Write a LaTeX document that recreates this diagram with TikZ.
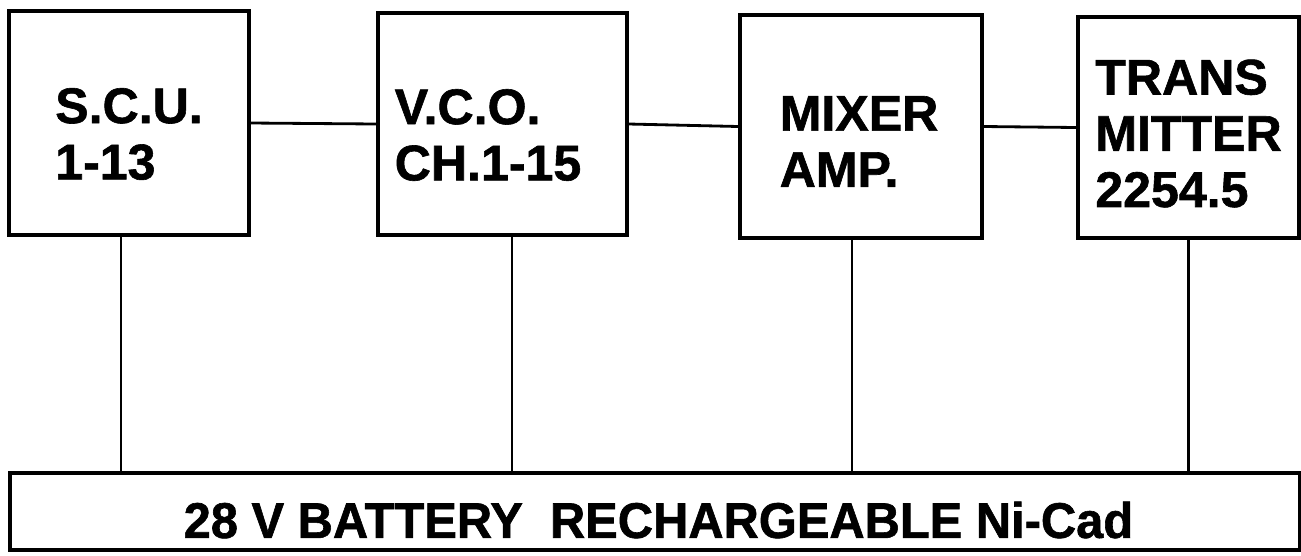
\documentclass[tikz,border=0pt]{standalone}
\usepackage{fontspec}
\setmainfont{Liberation Sans}[BoldFeatures={FakeBold=1.2}]
\usetikzlibrary{positioning}

\begin{document}
\begin{tikzpicture}[
  blk/.style={draw, rectangle, line width=2pt, inner sep=0pt},
  txt/.style={font=\fontsize{28.5}{32}\selectfont\bfseries,
              align=left, inner sep=0pt},
  wire/.style={line width=1.6pt}
]
\useasboundingbox (0,0) rectangle (26.02,-11.1);
\node[blk, minimum width=4.8cm,  minimum height=4.48cm] (scu)   at (2.58,-2.46)  {};
\node[blk, minimum width=4.98cm, minimum height=4.44cm] (vco)   at (10.05,-2.48) {};
\node[blk, minimum width=4.84cm, minimum height=4.46cm] (mix)   at (17.22,-2.53) {};
\node[blk, minimum width=4.42cm, minimum height=4.42cm] (trans) at (23.77,-2.55) {};
\node[blk, minimum width=25.8cm, minimum height=1.54cm] (batt)  at (13.1,-10.23) {};
\node[txt] (scut)   at ([yshift=-0.22cm]scu.center)               {S.C.U.\\1-13};
\node[txt] (vcot)   at ([xshift=-0.29cm, yshift=-0.22cm]vco.center) {V.C.O.\\CH.1-15};
\node[txt] (mixt)   at ([xshift=-0.04cm, yshift=-0.30cm]mix.center)  {MIXER\\AMP.};
\node[txt] (transt) at ([yshift=-0.12cm]trans.center)             {TRANS\\MITTER\\2254.5};
\node[txt, xscale=0.975, transform shape] (battt) at ([xshift=0.07cm, yshift=-0.17cm]batt.center)
  {28 V BATTERY\ \ RECHARGEABLE Ni-Cad};
\draw[wire] (scu.east) -- (vco.west);
\draw[wire] (vco.east) -- (mix.west);
\draw[wire] (mix.east) -- (trans.west);
\draw[wire] ([xshift=-0.16cm]scu.south) -- ([xshift=-0.16cm]scu.south |- batt.north);
\draw[wire] ([xshift=0.19cm]vco.south) -- ([xshift=0.19cm]vco.south |- batt.north);
\draw[wire] ([xshift=-0.18cm]mix.south) -- ([xshift=-0.18cm]mix.south |- batt.north);
\draw[wire] (trans.south) -- (trans.south |- batt.north);
\end{tikzpicture}
\end{document}
